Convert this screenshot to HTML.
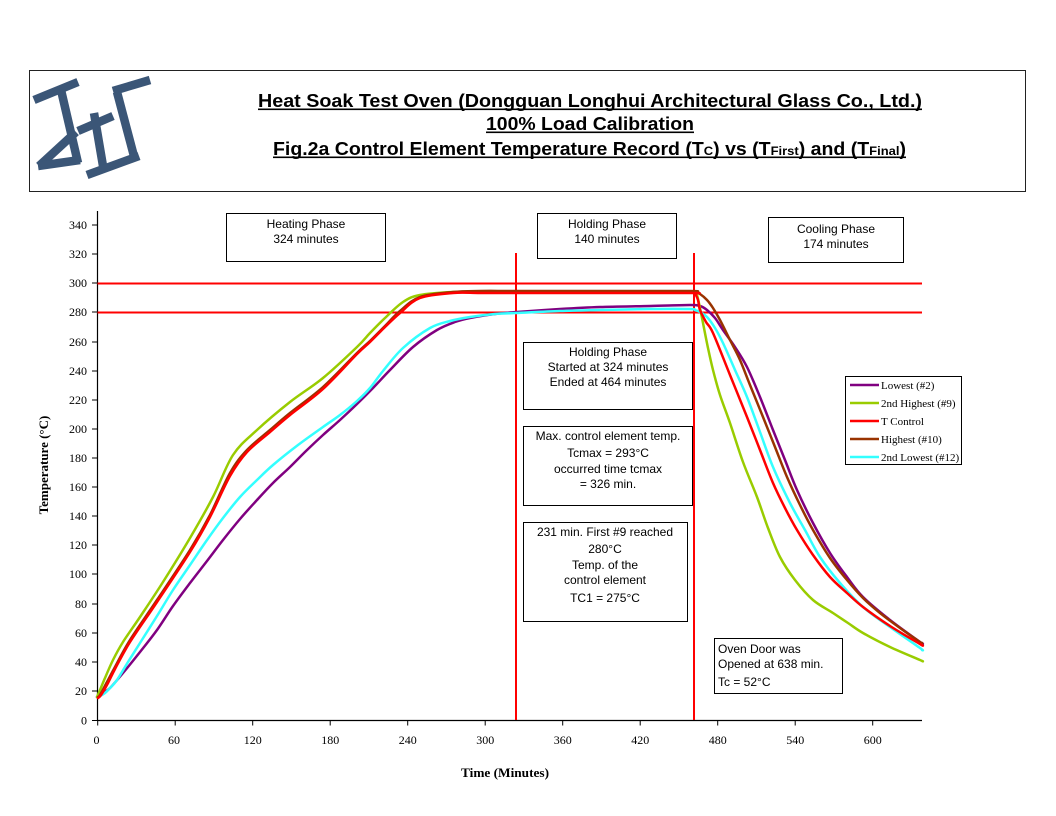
<!DOCTYPE html>
<html>
<head>
<meta charset="utf-8">
<style>
html,body{margin:0;padding:0;background:#fff;}
svg{display:block;}
.ax{font-family:"Liberation Serif",serif;font-size:12px;fill:#000;}
.bx{font-family:"Liberation Sans",sans-serif;font-size:12px;fill:#000;}
.lg{font-family:"Liberation Serif",serif;font-size:11px;fill:#000;}
</style>
</head>
<body>
<svg id="chart" width="1056" height="816" viewBox="0 0 1056 816" xmlns="http://www.w3.org/2000/svg">
<rect x="0" y="0" width="1056" height="816" fill="#fff"/>

<!-- Header box -->
<rect x="29.5" y="70.5" width="996" height="121" fill="#fff" stroke="#222" stroke-width="1"/>

<!-- Logo -->
<g stroke="#3b5677" stroke-width="8.5" stroke-linecap="butt" fill="none" stroke-linejoin="miter">
  <line x1="34" y1="100" x2="78" y2="82"/>
  <line x1="61" y1="90" x2="78" y2="163"/>
  <line x1="76" y1="132" x2="39" y2="166"/>
  <line x1="38" y1="166" x2="80" y2="160"/>
  <line x1="78" y1="131" x2="113" y2="116"/>
  <line x1="94" y1="113" x2="103" y2="166"/>
  <line x1="87" y1="175" x2="139" y2="156"/>
  <line x1="113" y1="91" x2="150" y2="80"/>
  <line x1="117" y1="92" x2="135" y2="160"/>
</g>

<!-- Title -->
<g font-family="Liberation Sans, sans-serif" font-weight="bold" font-size="18" fill="#000">
  <text x="258" y="107" textLength="664" lengthAdjust="spacingAndGlyphs">Heat Soak Test Oven (Dongguan Longhui Architectural Glass Co., Ltd.)</text>
  <text x="486" y="130" textLength="208" lengthAdjust="spacingAndGlyphs">100% Load Calibration</text>
  <text x="273" y="155" textLength="633" lengthAdjust="spacingAndGlyphs">Fig.2a Control Element Temperature Record (T<tspan font-size="12">C</tspan>) vs (T<tspan font-size="12">First</tspan>) and (T<tspan font-size="12">Final</tspan>)</text>
</g>
<rect x="258" y="108.5" width="664" height="1.6" fill="#000"/>
<rect x="486" y="131.5" width="208" height="1.6" fill="#000"/>
<rect x="273" y="156.5" width="633" height="1.6" fill="#000"/>

<!-- Axes -->
<line x1="97.5" y1="211" x2="97.5" y2="720.5" stroke="#000" stroke-width="1.2"/>
<line x1="97" y1="720.5" x2="922" y2="720.5" stroke="#000" stroke-width="1.2"/>

<!-- Y ticks -->
<g stroke="#000" stroke-width="1">
  <line x1="92" y1="720.5" x2="97.5" y2="720.5"/>
  <line x1="92" y1="691" x2="97.5" y2="691"/>
  <line x1="92" y1="662" x2="97.5" y2="662"/>
  <line x1="92" y1="633" x2="97.5" y2="633"/>
  <line x1="92" y1="604" x2="97.5" y2="604"/>
  <line x1="92" y1="574" x2="97.5" y2="574"/>
  <line x1="92" y1="545" x2="97.5" y2="545"/>
  <line x1="92" y1="516" x2="97.5" y2="516"/>
  <line x1="92" y1="487" x2="97.5" y2="487"/>
  <line x1="92" y1="458" x2="97.5" y2="458"/>
  <line x1="92" y1="429" x2="97.5" y2="429"/>
  <line x1="92" y1="400" x2="97.5" y2="400"/>
  <line x1="92" y1="371" x2="97.5" y2="371"/>
  <line x1="92" y1="342" x2="97.5" y2="342"/>
  <line x1="92" y1="312" x2="97.5" y2="312"/>
  <line x1="92" y1="283" x2="97.5" y2="283"/>
  <line x1="92" y1="254" x2="97.5" y2="254"/>
  <line x1="92" y1="225" x2="97.5" y2="225"/>
</g>
<g class="ax" text-anchor="end">
  <text x="87" y="724.5">0</text>
  <text x="87" y="695">20</text>
  <text x="87" y="666">40</text>
  <text x="87" y="637">60</text>
  <text x="87" y="608">80</text>
  <text x="87" y="578">100</text>
  <text x="87" y="549">120</text>
  <text x="87" y="520">140</text>
  <text x="87" y="491">160</text>
  <text x="87" y="462">180</text>
  <text x="87" y="433">200</text>
  <text x="87" y="404">220</text>
  <text x="87" y="375">240</text>
  <text x="87" y="346">260</text>
  <text x="87" y="316">280</text>
  <text x="87" y="287">300</text>
  <text x="87" y="258">320</text>
  <text x="87" y="229">340</text>
</g>

<!-- X ticks -->
<g stroke="#000" stroke-width="1">
  <line x1="97.7" y1="720" x2="97.7" y2="725.5"/>
  <line x1="175.2" y1="720" x2="175.2" y2="725.5"/>
  <line x1="252.7" y1="720" x2="252.7" y2="725.5"/>
  <line x1="330.2" y1="720" x2="330.2" y2="725.5"/>
  <line x1="407.7" y1="720" x2="407.7" y2="725.5"/>
  <line x1="485.2" y1="720" x2="485.2" y2="725.5"/>
  <line x1="562.7" y1="720" x2="562.7" y2="725.5"/>
  <line x1="640.2" y1="720" x2="640.2" y2="725.5"/>
  <line x1="717.7" y1="720" x2="717.7" y2="725.5"/>
  <line x1="795.2" y1="720" x2="795.2" y2="725.5"/>
  <line x1="872.7" y1="720" x2="872.7" y2="725.5"/>
</g>
<g class="ax" text-anchor="middle">
  <text x="96.5" y="744">0</text>
  <text x="174" y="744">60</text>
  <text x="252.7" y="744">120</text>
  <text x="330.2" y="744">180</text>
  <text x="407.7" y="744">240</text>
  <text x="485.2" y="744">300</text>
  <text x="562.7" y="744">360</text>
  <text x="640.2" y="744">420</text>
  <text x="717.7" y="744">480</text>
  <text x="795.2" y="744">540</text>
  <text x="872.7" y="744">600</text>
</g>

<!-- Axis titles -->
<text x="505" y="777" text-anchor="middle" font-family="Liberation Serif, serif" font-weight="bold" font-size="13" textLength="88" lengthAdjust="spacingAndGlyphs">Time (Minutes)</text>
<text transform="translate(48,465) rotate(-90)" text-anchor="middle" font-family="Liberation Serif, serif" font-weight="bold" font-size="13">Temperature (°C)</text>

<!-- Red reference lines -->
<g stroke="#ff0000" stroke-width="2">
  <line x1="97.5" y1="283.5" x2="922" y2="283.5"/>
  <line x1="97.5" y1="312.5" x2="922" y2="312.5"/>
  <line x1="516" y1="253" x2="516" y2="720"/>
  <line x1="694" y1="253" x2="694" y2="720"/>
</g>

<!-- Curves -->
<g id="curves" fill="none" stroke-width="2.5" stroke-linejoin="round" stroke-linecap="round">
  <!-- Lowest #2 purple -->
  <polyline stroke="#800080" points="97,697 100,695 103,693 110,688 123,673 140,652 157,630 173,606 190,583 207,561 223,540 240,519 257,500 273,483 290,467 306,451 323,435 340,420 357,404 373,388 390,370 413,347 437,330 455,322 470,318 495,314 517,312 560,309 600,307 650,306 690,305 700,306 707,310 715,318 723,330 735,347 747,367 760,397 773,430 785,460 797,490 813,523 830,553 847,577 863,597 890,620 920,642 922,643"/>
  <!-- 2nd Lowest #12 cyan -->
  <polyline stroke="#33ffff" points="97,697 100,696 105,693 110,688 117,680 128,662 140,643 157,616 173,590 190,565 207,540 223,518 240,497 257,480 273,465 298,445 323,427 340,415 357,401 370,388 383,371 403,348 430,328 450,321 470,317 495,314 517,313 560,311 600,310 650,309 690,309 695,310 700,312 707,317 715,328 723,343 735,370 747,397 760,432 773,467 790,503 805,530 820,557 840,583 863,607 890,627 920,648 922,650"/>
  <!-- 2nd Highest #9 green -->
  <polyline stroke="#99cc00" points="97,697 100,690 105,678 113,660 123,642 140,617 163,582 190,538 213,497 233,455 257,430 290,402 323,378 357,347 370,333 385,318 403,302 420,295 453,292 480,292 516,292 600,292 690,292 695,293 697,295 700,308 703,323 708,348 713,370 720,395 730,423 743,462 757,497 768,528 780,557 795,580 813,600 833,613 848,623 863,633 890,647 920,660 922,661"/>
  <!-- Highest #10 brown -->
  <polyline stroke="#993300" points="98,697 100,695 107,682 115,667 130,640 157,600 190,550 210,515 230,473 247,450 270,430 290,413 323,387 357,353 370,341 385,326 400,311 420,297 453,292 480,291 516,291 600,291 690,291 695,292 700,294 707,300 713,308 720,320 730,340 740,360 750,385 763,417 775,447 787,477 800,505 813,530 830,558 847,580 863,598 880,613 900,628 920,642 922,643"/>
  <!-- T Control red -->
  <polyline stroke="#ff0000" points="98,698 101,695 108,683 115,669 130,642 157,602 190,552 210,517 230,476 247,452 270,432 290,415 323,389 357,354 370,342 385,327 400,313 420,298 453,293 480,293 516,293 600,293 692,293 695,294 698,300 700,310 706,322 713,333 730,375 747,417 760,450 773,483 785,508 797,530 813,555 830,577 847,593 863,607 890,626 920,644 922,645"/>
</g>

<!-- Phase boxes -->
<g fill="#fff" stroke="#000" stroke-width="1">
  <rect x="226.5" y="213.5" width="159" height="48"/>
  <rect x="537.5" y="213.5" width="139" height="45"/>
  <rect x="768.5" y="217.5" width="135" height="45"/>
  <rect x="523.5" y="342.5" width="169" height="67"/>
  <rect x="523.5" y="426.5" width="169" height="79"/>
  <rect x="523.5" y="522.5" width="164" height="99"/>
  <rect x="714.5" y="638.5" width="128" height="55"/>
  <rect x="845.5" y="376.5" width="116" height="88"/>
</g>
<g class="bx" text-anchor="middle">
  <text x="306" y="228">Heating Phase</text>
  <text x="306" y="243">324 minutes</text>
  <text x="607" y="228">Holding Phase</text>
  <text x="607" y="243">140 minutes</text>
  <text x="836" y="233">Cooling Phase</text>
  <text x="836" y="248">174 minutes</text>
  <text x="608" y="356">Holding Phase</text>
  <text x="608" y="371">Started at 324 minutes</text>
  <text x="608" y="386">Ended at 464 minutes</text>
  <text x="608" y="440">Max. control element temp.</text>
  <text x="608" y="457">Tcmax = 293°C</text>
  <text x="608" y="473">occurred time tcmax</text>
  <text x="608" y="488">= 326 min.</text>
  <text x="605" y="536">231 min. First #9 reached</text>
  <text x="605" y="553">280°C</text>
  <text x="605" y="569">Temp. of the</text>
  <text x="605" y="584">control element</text>
  <text x="605" y="602">TC1 =  275°C</text>
</g>
<g class="bx">
  <text x="718" y="653">Oven Door was</text>
  <text x="718" y="668">Opened at 638 min.</text>
  <text x="718" y="686">Tc = 52°C</text>
</g>

<!-- Legend -->
<g stroke-width="2.5">
  <line x1="850" y1="385" x2="879" y2="385" stroke="#800080"/>
  <line x1="850" y1="403" x2="879" y2="403" stroke="#99cc00"/>
  <line x1="850" y1="421" x2="879" y2="421" stroke="#ff0000"/>
  <line x1="850" y1="439" x2="879" y2="439" stroke="#993300"/>
  <line x1="850" y1="457" x2="879" y2="457" stroke="#33ffff"/>
</g>
<g class="lg">
  <text x="881" y="389">Lowest (#2)</text>
  <text x="881" y="407">2nd Highest (#9)</text>
  <text x="881" y="425">T Control</text>
  <text x="881" y="443">Highest (#10)</text>
  <text x="881" y="461">2nd Lowest (#12)</text>
</g>
</svg>
<script>
(function(){
  try{
    var ns="http://www.w3.org/2000/svg";
    var g=document.getElementById("curves");
    var pls=g.querySelectorAll("polyline");
    for(var k=0;k<pls.length;k++){
      var pl=pls[k];
      var raw=pl.getAttribute("points").trim().split(/\s+/);
      var p=[];
      for(var i=0;i<raw.length;i++){var a=raw[i].split(",");p.push([+a[0],+a[1]]);}
      var d="M"+p[0][0]+","+p[0][1];
      for(var i=0;i<p.length-1;i++){
        var p0=p[i>0?i-1:i],p1=p[i],p2=p[i+1],p3=p[i+2<p.length?i+2:i+1];
        var t=0.5/3*1.0;
        var c1x=p1[0]+(p2[0]-p0[0])*t,c1y=p1[1]+(p2[1]-p0[1])*t;
        var c2x=p2[0]-(p3[0]-p1[0])*t,c2y=p2[1]-(p3[1]-p1[1])*t;
        d+=" C"+c1x.toFixed(2)+","+c1y.toFixed(2)+" "+c2x.toFixed(2)+","+c2y.toFixed(2)+" "+p2[0]+","+p2[1];
      }
      var path=document.createElementNS(ns,"path");
      path.setAttribute("d",d);
      path.setAttribute("stroke",pl.getAttribute("stroke"));
      g.replaceChild(path,pl);
    }
  }catch(e){}
})();
</script>
</body>
</html>
